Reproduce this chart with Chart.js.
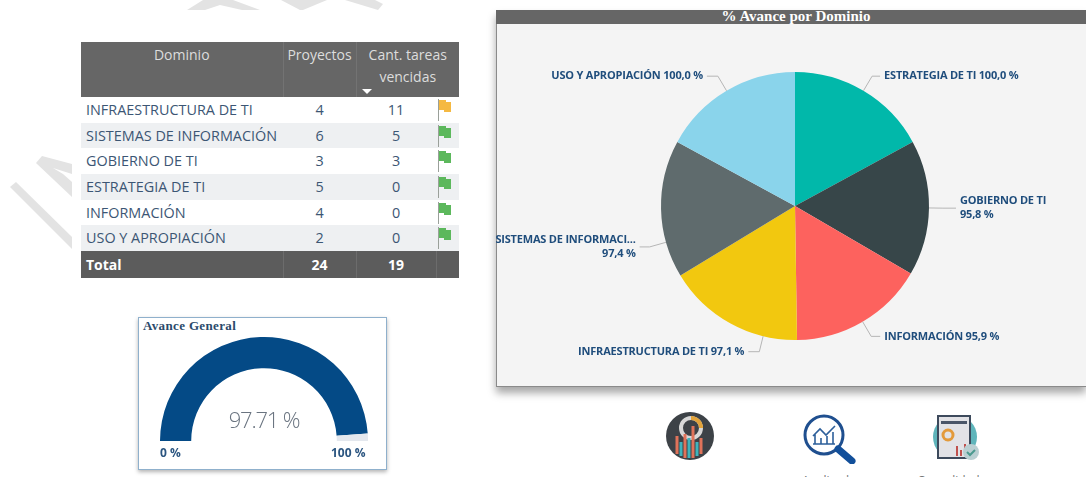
<!DOCTYPE html>
<html>
<head>
<meta charset="utf-8">
<script src="https://cdn.jsdelivr.net/npm/chart.js@4"></script>
<style>
html, body { margin: 0; padding: 0; background: #fff; width: 1086px; height: 477px; overflow: hidden; font-family: "Open Sans", sans-serif; }
.abs { position: absolute; }
#wm { left: 0; top: 0; }
#tabla { left: 81px; top: 42px; width: 378px; border-collapse: collapse; table-layout: fixed; font-size: 14.4px; color: #3c5674; }
#tabla th { background: #666; color: #ddd; font-weight: 400; height: 55px; padding: 2px 0 0 0; vertical-align: top; line-height: 22px; box-sizing: border-box; border-left: 1px solid #737373; position: relative; font-size: 14px; }
#tabla th:first-child { border-left: 0; }
#tabla td { height: 25.7px; line-height: 20px; padding: 0; text-align: center; white-space: nowrap; box-sizing: border-box; }
#tabla td:first-child { text-align: left; padding-left: 5px; }
#tabla tbody tr:nth-child(even) { background: #eef0f2; }
#tabla tfoot td { background: #5c5c5c; color: #fff; font-weight: 700; height: 27px; border-left: 1px solid #6c6c6c; font-size: 14px; }
#tabla tfoot td:first-child { border-left: 0; }
.flecha { position: absolute; left: 5px; bottom: 3px; width: 0; height: 0; border-left: 5px solid transparent; border-right: 5px solid transparent; border-top: 5px solid #fff; }
.flag { display: block; margin: -3px 0 -3px 0; }
#panel { left: 496px; top: 10px; width: 590px; height: 377px; background: #f4f4f4; border-left: 1px solid #8a8a8a; border-bottom: 1px solid #8a8a8a; box-sizing: border-box; box-shadow: 0 6px 8px rgba(0,0,0,.35); }
#barra { left: 496px; top: 10px; width: 580px; height: 14px; padding-left: 10px; background: #666; color: #fff; overflow: hidden; text-align: center; font: bold 15px/12px "Liberation Serif", serif; }
#pie { left: 496px; top: 25px; }
#card { left: 138px; top: 317px; width: 249px; height: 153px; box-sizing: border-box; background: #fff; border: 1px solid #8fb0cc; box-shadow: 0 2px 4px rgba(0,0,0,.3); }
#cardTitulo { left: 143px; top: 318px; font: bold 13px/15px "Liberation Serif", serif; letter-spacing: .35px; color: #2b4a6b; }
#gauge { left: 160px; top: 337px; }
#valor { left: 164px; width: 200px; top: 404px; text-align: center; font-size: 22px; font-weight: 300; letter-spacing: -1.2px; line-height: 30px; color: #6a7480; }
.ext { top: 445px; font-size: 12px; font-weight: 700; color: #2b5580; line-height: 16px; }
.pieTxt { top: 473px; font-size: 12px; color: #777; line-height: 16px; width: 120px; text-align: center; }
</style>
</head>
<body>
<svg id="wm" class="abs" width="420" height="300" fill="#e3e3e3">
  <polygon points="10,187 16,182 72,237 72,249"/>
  <polygon points="36,163 42,156 72,164 72,174 53,168 63,174 72,182 72,197"/>
  <polygon points="187,10 203,0 233,0 260,10 242,10 220,5 205,10"/>
  <polygon points="281,0 300,10 303,10 327,0 345,0 378,10 383,4 375,0 345,0"/>
</svg>

<table id="tabla" class="abs">
  <colgroup><col style="width:202px"><col style="width:73px"><col style="width:80px"><col style="width:23px"></colgroup>
  <thead><tr id="cabecera"></tr></thead>
  <tbody id="filas"></tbody>
  <tfoot><tr id="totales"></tr></tfoot>
</table>

<div id="card" class="abs"></div>
<div id="cardTitulo" class="abs">Avance General</div>
<canvas id="gauge" class="abs" width="208" height="104" style="width:208px;height:104px"></canvas>
<div id="valor" class="abs">97.71 %</div>
<div class="abs ext" style="left:160px">0 %</div>
<div class="abs ext" style="left:331px">100 %</div>

<div id="panel" class="abs"></div>
<div id="barra" class="abs">% Avance por Dominio</div>
<canvas id="pie" class="abs" width="590" height="362" style="width:590px;height:362px"></canvas>

<svg class="abs" style="left:665px;top:412px" width="50" height="50">
  <circle cx="25" cy="24" r="24" fill="#3d4247"/>
  <circle cx="26" cy="16" r="10" fill="none" stroke="#d8d8d8" stroke-width="4"/>
  <path d="M26 6a10 10 0 0 1 10 10" fill="none" stroke="#e2a33a" stroke-width="4"/>
  <path d="M12 42V24M20 46V22M28 46V14M36 42V26" stroke="#e0735a" stroke-width="3"/>
  <path d="M16 44V30M24 46V26M32 44V30" stroke="#3fb4bc" stroke-width="3"/>
</svg>
<svg class="abs" style="left:800px;top:412px" width="60" height="52">
  <circle cx="24" cy="23" r="19" fill="#fff" stroke="#1f4f8f" stroke-width="3"/>
  <path d="M38 37L52 49" stroke="#124f9a" stroke-width="7" stroke-linecap="round"/>
  <path d="M13 32h22M15 32V22M21 32V26M27 32V24M33 32V20M13 24l7-7 6 6 9-9" fill="none" stroke="#2d5f9a" stroke-width="1.6"/>
</svg>
<svg class="abs" style="left:930px;top:412px" width="54" height="52">
  <circle cx="25" cy="25" r="22" fill="#5fb5bb"/>
  <rect x="8" y="4" width="32" height="42" fill="#e2e2e6" stroke="#3d4a5c" stroke-width="2"/>
  <rect x="11" y="9" width="26" height="3" fill="#4a5568"/>
  <circle cx="18" cy="23" r="5" fill="none" stroke="#e39a3b" stroke-width="3"/>
  <path d="M27 44V34M31 44V38M35 44V32" stroke="#c0504d" stroke-width="2"/>
  <circle cx="41" cy="40" r="8" fill="#b9cfd2"/>
  <path d="M37 40l3 3 5-5" fill="none" stroke="#4b9a8f" stroke-width="2"/>
</svg>
<div class="abs pieTxt" style="left:772px">Analizados</div>
<div class="abs pieTxt" style="left:892px">Consolidado</div>

<script>
// tabla
const encabezados = ['Dominio', 'Proyectos', 'Cant. tareas', 'vencidas'];
const dominiosTabla = ['INFRAESTRUCTURA DE TI', 'SISTEMAS DE INFORMACIÓN', 'GOBIERNO DE TI', 'ESTRATEGIA DE TI', 'INFORMACIÓN', 'USO Y APROPIACIÓN'];
const proyectos = [4, 6, 3, 5, 4, 2];
const vencidas = [11, 5, 3, 0, 0, 0];
const banderas = ['#f5b942', '#5cb85c', '#5cb85c', '#5cb85c', '#5cb85c', '#5cb85c'];
const totalProyectos = 24;
const totalVencidas = 19;

// pie
const dominiosPie = ['ESTRATEGIA DE TI', 'GOBIERNO DE TI', 'INFORMACIÓN', 'INFRAESTRUCTURA DE TI', 'SISTEMAS DE INFORMACI...', 'USO Y APROPIACIÓN'];
const avance = [100.0, 95.8, 95.9, 97.1, 97.4, 100.0];
const coloresPie = ['#01b8aa', '#374649', '#fd625e', '#f2c80f', '#5f6b6d', '#8ad4eb'];

// gauge
const avanceGeneral = 97.71;
const restante = 2.29;

document.getElementById('cabecera').innerHTML =
    '<th>' + encabezados[0] + '</th><th>' + encabezados[1] + '</th>' +
    '<th colspan="2">' + encabezados[2] + '<br>' + encabezados[3] + '<span class="flecha"></span></th>';

let filas = '';
dominiosTabla.forEach(function (d, i) {
    filas += '<tr><td>' + d + '</td><td>' + proyectos[i] + '</td><td>' + vencidas[i] + '</td>' +
        '<td><svg class="flag" width="20" height="24"><path d="M2.5 1V23" stroke="#9aa09a" stroke-width="1"/>' +
        '<path d="M3 2h7v2h5v10h-7v-2H3z" fill="' + banderas[i] + '"/></svg></td></tr>';
});
document.getElementById('filas').innerHTML = filas;
document.getElementById('totales').innerHTML =
    '<td>Total</td><td>' + totalProyectos + '</td><td>' + totalVencidas + '</td><td></td>';

// etiquetas con linea guia, una por porcion
const guias = [
    { shift: 0, lead: 17, run: 8, lado: 1 },
    { shift: 0, lead: 14, run: 13, lado: 1, partir: true },
    { shift: 0, lead: 17, run: 9, lado: 1 },
    { shift: -15.2, lead: 16, run: 11, lado: -1 },
    { shift: -14.4, lead: 17, run: 10, lado: -1, partir: true },
    { shift: 0, lead: 17, run: 11, lado: -1 }
];

const etiquetasPie = {
    id: 'etiquetasPie',
    afterDraw(chart) {
        const ctx = chart.ctx;
        const arcos = chart.getDatasetMeta(0).data;
        ctx.save();
        ctx.font = 'bold 11px "Open Sans"';
        ctx.letterSpacing = '-0.2px';
        arcos.forEach(function (arco, i) {
            const g = guias[i];
            const p = arco.getProps(['x', 'y', 'startAngle', 'endAngle', 'outerRadius']);
            const ang = (p.startAngle + p.endAngle) / 2 + g.shift * Math.PI / 180;
            const x0 = p.x + Math.cos(ang) * p.outerRadius;
            const y0 = p.y + Math.sin(ang) * p.outerRadius;
            const x1 = p.x + Math.cos(ang) * (p.outerRadius + g.lead);
            const y1 = p.y + Math.sin(ang) * (p.outerRadius + g.lead);
            const x2 = x1 + g.lado * g.run;

            ctx.strokeStyle = '#b5b5b5';
            ctx.lineWidth = 1;
            ctx.beginPath();
            ctx.moveTo(x0, y0);
            ctx.lineTo(x1, y1);
            ctx.lineTo(x2, y1);
            ctx.stroke();

            const pct = avance[i].toFixed(1).replace('.', ',') + ' %';
            const tx = x2 + g.lado * 4;
            ctx.fillStyle = '#1f4d7c';
            ctx.textAlign = g.lado > 0 ? 'left' : 'right';
            ctx.textBaseline = 'middle';
            if (g.partir) {
                ctx.fillText(dominiosPie[i], tx, y1 - 7);
                ctx.fillText(pct, tx, y1 + 7);
            } else {
                ctx.fillText(dominiosPie[i] + ' ' + pct, tx, y1);
            }
        });
        ctx.restore();
    }
};

new Chart(document.getElementById('pie'), {
    type: 'pie',
    data: {
        labels: dominiosPie,
        datasets: [{
            data: avance,
            backgroundColor: coloresPie,
            borderWidth: 0
        }]
    },
    options: {
        responsive: false,
        animation: false,
        layout: { padding: { left: 8, top: 47, bottom: 47 } },
        plugins: { legend: { display: false }, tooltip: { enabled: false } }
    },
    plugins: [etiquetasPie]
});

new Chart(document.getElementById('gauge'), {
    type: 'doughnut',
    data: {
        labels: ['Avance', 'Restante'],
        datasets: [{
            data: [avanceGeneral, restante],
            backgroundColor: ['#044a86', '#e4e8ee'],
            borderWidth: 0
        }]
    },
    options: {
        responsive: false,
        animation: false,
        rotation: -90,
        circumference: 180,
        cutout: '70%',
        plugins: { legend: { display: false }, tooltip: { enabled: false } }
    }
});
</script>
</body>
</html>
